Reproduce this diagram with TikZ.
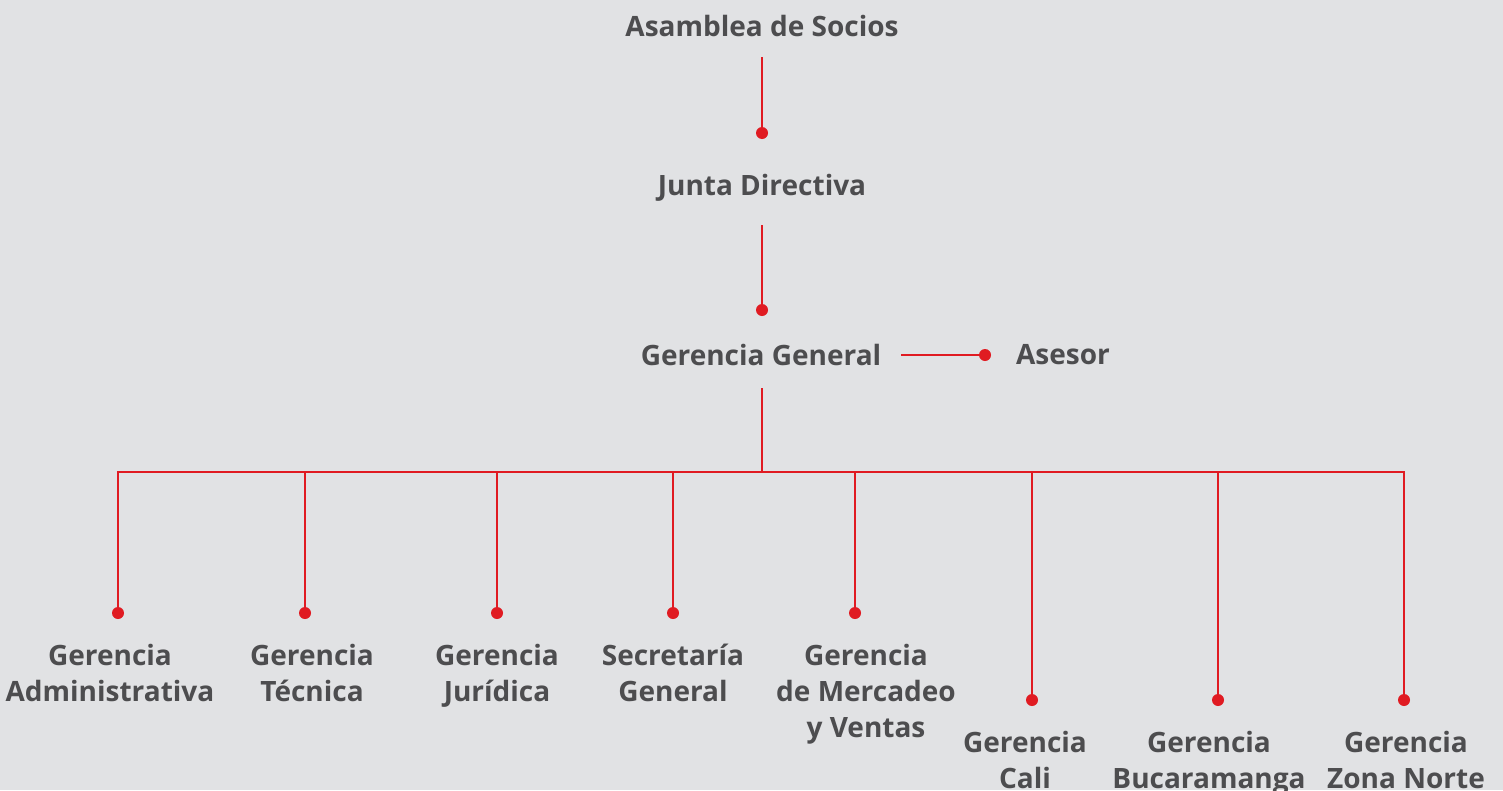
\documentclass[tikz,border=0pt]{standalone}
\usepackage{fontspec}
\setmainfont{Open Sans}
\definecolor{bg}{HTML}{E1E2E4}
\definecolor{tx}{HTML}{4D4D4F}
\definecolor{rd}{HTML}{E01B22}
\newcommand{\ls}{\strut}
\begin{document}
\begin{tikzpicture}[x=1pt,y=-1pt,
  lbl/.style={text=tx,font=\fontsize{28}{36}\selectfont\bfseries,align=center,inner sep=0pt},
  top/.style={lbl,anchor=north},
  one/.style={lbl,anchor=base},
  dot/.style={circle,fill=rd,inner sep=0pt,minimum size=12pt},
  con/.style={draw=rd,line width=2pt}]
\fill[bg] (0,0) rectangle (1503,790);
\useasboundingbox (0,0) rectangle (1503,790);
% top chain
\node[one] (asam) at (762,36.5) {Asamblea de Socios};
\node[dot] (d1) at (762,133) {};
\node[one] (junta) at (762,195) {Junta Directiva};
\node[dot] (d2) at (762,310) {};
\node[one] (gg) at (761,365) {Gerencia General};
\node[dot] (d3) at (985,355) {};
\node[one] (ases) at (1063,364) {Asesor};
\coordinate (c1) at (762,57);
\coordinate (c2) at (762,225);
\coordinate (c3) at (901,355);
\coordinate (c4) at (762,388);
\coordinate (bus) at (762,472);
\coordinate (busL) at (118,472);
\coordinate (busR) at (1404,472);
\draw[con] (c1) -- (d1.center);
\draw[con] (c2) -- (d2.center);
\draw[con] (c3) -- (d3.center);
\draw[con] (c4) -- (bus);
\draw[con,line cap=rect] (busL) -- (busR);
% bottom dots
\node[dot] (e1) at (118,613) {};
\node[dot] (e2) at (305,613) {};
\node[dot] (e3) at (497,613) {};
\node[dot] (e4) at (673,613) {};
\node[dot] (e5) at (855,613) {};
\node[dot] (e6) at (1032,700) {};
\node[dot] (e7) at (1218,700) {};
\node[dot] (e8) at (1404,700) {};
\foreach \n in {e1,e2,e3,e4,e5,e6,e7,e8}
  \draw[con] (\n.center) -- (\n.center |- bus);
% bottom labels
\node[top] (g1) at (110,639.8) {\ls Gerencia\\\ls Administrativa\ls};
\node[top] (g2) at (312,639.8) {\ls Gerencia\\\ls Técnica\ls};
\node[top] (g3) at (497,639.8) {\ls Gerencia\\\ls Jurídica\ls};
\node[top] (g4) at (673,639.8) {\ls Secretaría\\\ls General\ls};
\node[top] (g5) at (866,639.8) {\ls Gerencia\\\ls de Mercadeo\\\ls y Ventas\ls};
\node[top] (g6) at (1025,727.5) {\ls Gerencia\\\ls Cali\ls};
\node[top] (g7) at (1209,727.5) {\ls Gerencia\\\ls Bucaramanga\ls};
\node[top] (g8) at (1406,727.5) {\ls Gerencia\\\ls Zona Norte\ls};
\end{tikzpicture}
\end{document}
